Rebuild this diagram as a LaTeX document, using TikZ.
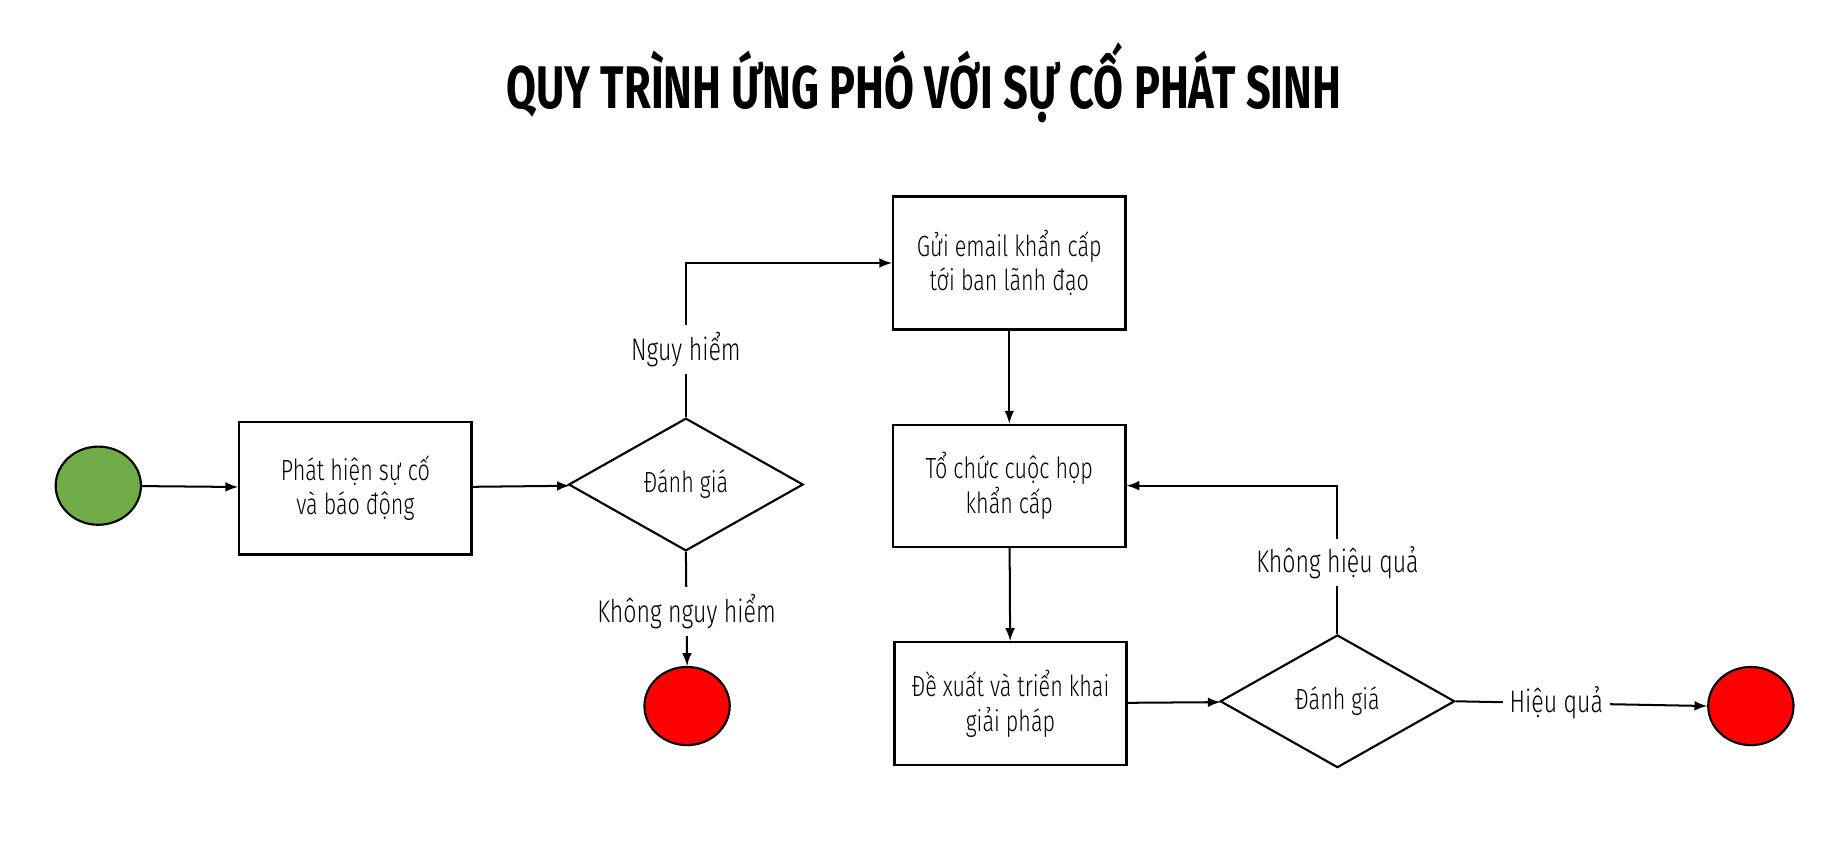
\documentclass[tikz,border=0pt]{standalone}
\usepackage{fontspec}
\setmainfont{Fira Sans Light}[FakeStretch=0.74]
\newfontfamily\titlefont{Fira Sans}[FakeStretch=0.72]
\tikzset{>=latex}
\usetikzlibrary{shapes.geometric}
\definecolor{startgreen}{RGB}{112,173,71}

\begin{document}
\begin{tikzpicture}[x=0.5pt,y=-0.5pt,line width=0.85pt,
  every node/.style={font=\fontsize{12.3}{14.5}\selectfont},
  box/.style={draw,line width=1pt,minimum width=98pt,minimum height=56pt,align=center,inner sep=2pt},
  decision/.style={draw,diamond,line width=0.9pt,minimum width=99pt,minimum height=56pt,inner sep=0pt},
  terminal/.style={draw,ellipse,line width=0.9pt,minimum width=36pt,minimum height=33pt,inner sep=0pt},
  lbl/.style={fill=white,inner sep=3pt,font=\fontsize{13.2}{15}\selectfont}]
  \useasboundingbox (0,0) rectangle (1560,724);
  % Title
  \node (title) at (780,70) {\titlefont\bfseries\fontsize{25.4}{30}\selectfont QUY TRÌNH ỨNG PHÓ VỚI SỰ CỐ PHÁT SINH};
  % Start
  \node[terminal,fill=startgreen] (start) at (83,410) {};
  % Detection
  \node[box] (detect) at (300,412) {Phát hiện sự cố\\và báo động};
  % First assessment
  \node[decision] (assess1) at (579,409) {Đánh giá};
  \node[terminal,fill=red] (stop1) at (580,596) {};
  % Escalation
  \node[box] (email) at (852,222) {Gửi email khẩn cấp\\tới ban lãnh đạo};
  \node[box,minimum height=51.5pt] (meeting) at (852,410) {Tổ chức cuộc họp\\khẩn cấp};
  \node[box,minimum height=52pt] (solution) at (853,594) {Đề xuất và triển khai\\giải pháp};
  % Second assessment
  \node[decision] (assess2) at (1129,592) {Đánh giá};
  \node[terminal,fill=red] (stop2) at (1478,596) {};
  % Connectors
  \draw[->] (start) -- (detect);
  \draw[->] (detect) -- (assess1);
  \draw[->] (assess1.north) |- node[lbl,pos=0.22] {Nguy hiểm} (email.west);
  \draw[->] (assess1.south) -- node[lbl,pos=0.52] {Không nguy hiểm} (stop1.north);
  \draw[->] (email) -- (meeting);
  \draw[->] (meeting) -- (solution);
  \draw[->] (solution) -- (assess2);
  \draw[->] (assess2.north) |- node[lbl,pos=0.24] {Không hiệu quả} (meeting.east);
  \draw[->] (assess2.east) -- node[lbl,pos=0.4] {Hiệu quả} (stop2.west);
\end{tikzpicture}
\end{document}
